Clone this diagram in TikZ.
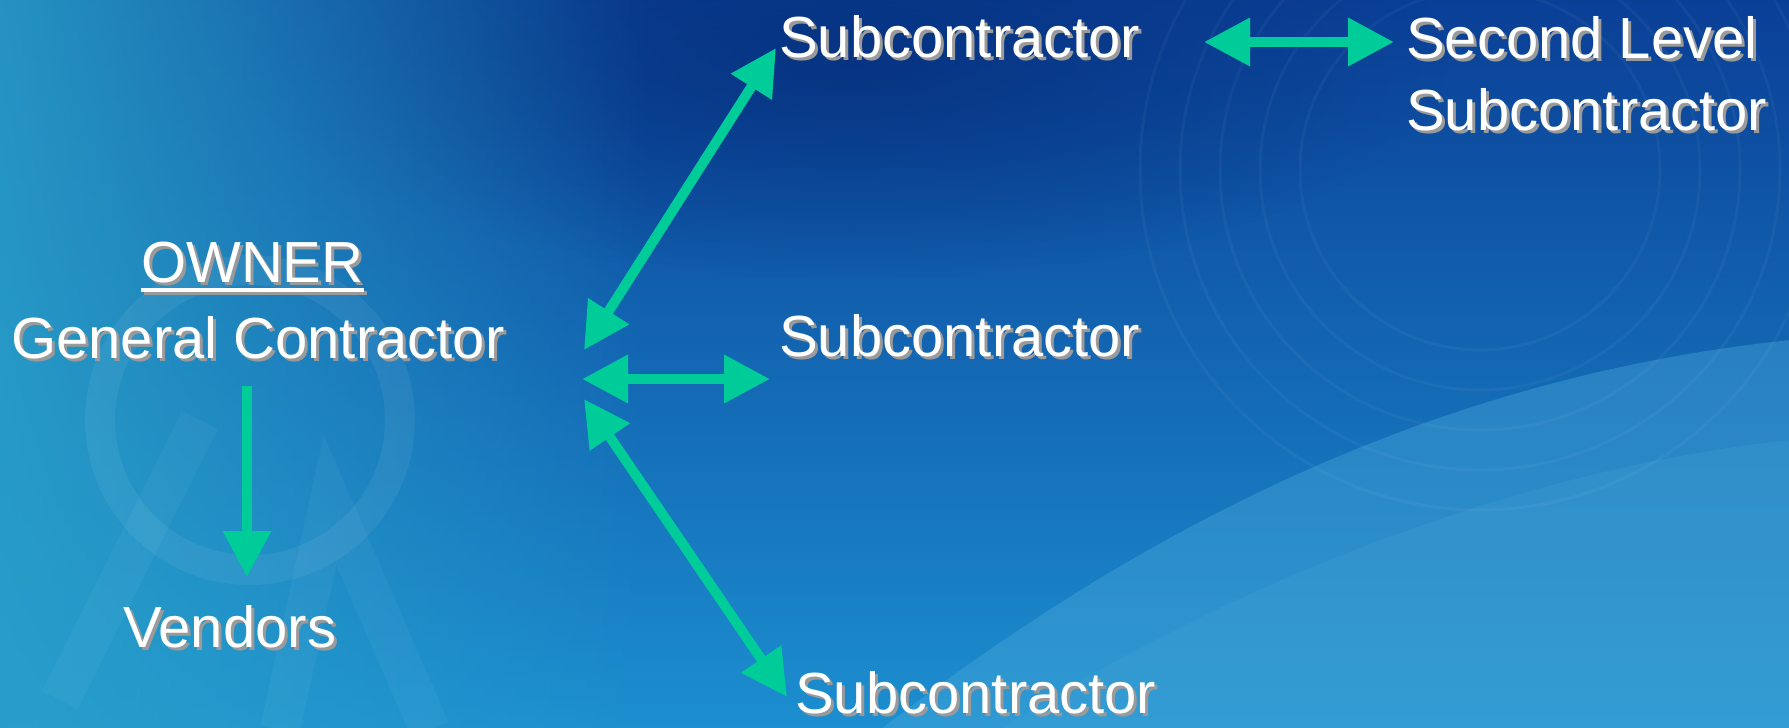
\documentclass[tikz,border=0pt]{standalone}
\usepackage{fontspec}
\setmainfont{Liberation Sans}
\usetikzlibrary{arrows.meta,fadings}
\definecolor{arrowgreen}{HTML}{00CC99}
\definecolor{shadowgray}{HTML}{9A9A9A}
\definecolor{bgtop}{HTML}{0A3F96}
\definecolor{bgbot}{HTML}{1C8FD0}
\definecolor{navy}{HTML}{062F7C}
\definecolor{cyanleft}{HTML}{2AA2CA}
\definecolor{wavelight}{HTML}{4BAAD8}
\tikzfading[name=fadeR, left color=transparent!0, right color=transparent!100]
\tikzfading[name=blob, inner color=transparent!0, outer color=transparent!100]
\newcommand\shtxt[1]{\makebox[0pt][l]{\hspace{3pt}\raisebox{-3pt}{\textcolor{shadowgray}{#1}}}#1}
\tikzset{
  lbl/.style={anchor=base west, inner sep=0pt, text=white, font=\fontsize{58}{72}\selectfont},
  conn/.style={draw=arrowgreen, line width=10pt, {Triangle[length=46pt,width=46pt]}-{Triangle[length=46pt,width=46pt]}},
  conn1/.style={draw=arrowgreen, line width=10pt, -{Triangle[length=46pt,width=46pt]}},
}
\begin{document}
\begin{tikzpicture}[x=1pt,y=-1pt]
\useasboundingbox (0,0) rectangle (1789,728);
% background
\shade[top color=bgtop, bottom color=bgbot] (-2,-2) rectangle (1791,730);
\fill[navy, path fading=blob, opacity=0.8] (850,60) ellipse (600 and 220);
\fill[cyanleft, path fading=fadeR, opacity=0.85] (-2,-2) rectangle (650,730);
\fill[wavelight, opacity=0.4] (880,730) .. controls (1100,560) and (1400,380) .. (1791,340) -- (1791,730) -- cycle;
\fill[wavelight, opacity=0.2] (1000,730) .. controls (1200,600) and (1500,470) .. (1791,440) -- (1791,730) -- cycle;
\foreach \r in {180,220,260,300,340}
  \draw[white, opacity=0.04, line width=3pt] (1480,170) circle (\r);
\draw[white, opacity=0.06, line width=30pt] (250,420) circle (150);
\draw[white, opacity=0.04, line width=40pt] (60,700) -- (200,420) (430,730) -- (330,500) -- (280,730);
% labels
\node[lbl] (sub1) at (779,57) {\shtxt{Subcontractor}};
\node[lbl, anchor=north west, align=left] (second) at (1406,16) {\shtxt{Second Level}\\\shtxt{Subcontractor}};
\node[lbl] (owner) at (141,282) {\shtxt{OWNER}};
\draw[shadowgray, line width=4pt] ([xshift=3pt,yshift=-11pt]owner.base west) -- ([xshift=3pt,yshift=-11pt]owner.base east);
\draw[white, line width=4pt] ([yshift=-8pt]owner.base west) -- ([yshift=-8pt]owner.base east);
\node[lbl] (gc) at (11,358) {\shtxt{General Contractor}};
\node[lbl] (vend) at (123,647) {\shtxt{Vendors}};
\node[lbl] (sub2) at (779,356) {\shtxt{Subcontractor}};
\node[lbl] (sub3) at (795,713) {\shtxt{Subcontractor}};
% connector end points
\coordinate (hubU) at (584,350);
\coordinate (hubM) at (582,379);
\coordinate (hubD) at (584,399);
\coordinate (endU) at (776,48);
\coordinate (endM) at (770,379);
\coordinate (endD) at (787,697);
\coordinate (gcBot) at (247,386);
\coordinate (vendTop) at (247,577);
\coordinate (topL) at (1204,42);
\coordinate (topR) at (1394,42);
\draw[conn] (hubU) -- (endU);
\draw[conn] (hubM) -- (endM);
\draw[conn] (hubD) -- (endD);
\draw[conn1] (gcBot) -- (vendTop);
\draw[conn] (topL) -- (topR);
\end{tikzpicture}
\end{document}
